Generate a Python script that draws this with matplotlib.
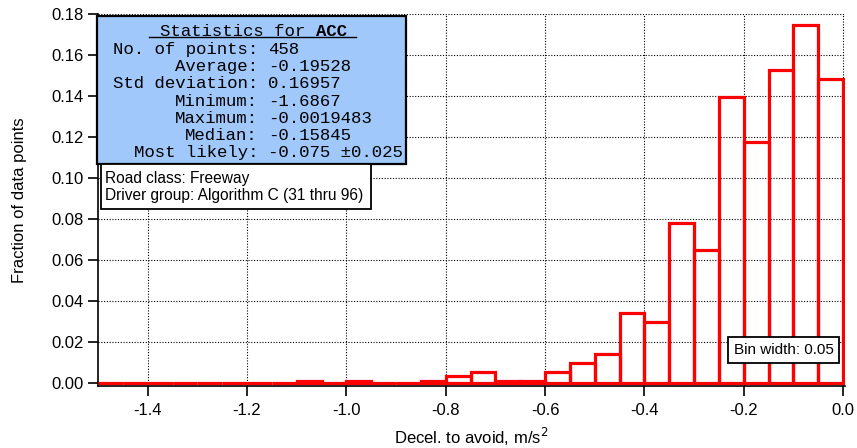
import matplotlib.pyplot as plt
from matplotlib.patches import Rectangle
from matplotlib.lines import Line2D

# histogram, bin width 0.05 from -1.5 to 0.0
bin_left = [-1.50, -1.45, -1.40, -1.35, -1.30, -1.25, -1.20, -1.15, -1.10, -1.05,
            -1.00, -0.95, -0.90, -0.85, -0.80, -0.75, -0.70, -0.65, -0.60, -0.55,
            -0.50, -0.45, -0.40, -0.35, -0.30, -0.25, -0.20, -0.15, -0.10, -0.05]
fraction = [0, 0, 0, 0, 0, 0, 0, 0, 0.0009, 0,
            0.0009, 0, 0, 0.0008, 0.0033, 0.0055, 0.0009, 0.0009, 0.0055, 0.0098,
            0.0142, 0.0343, 0.0298, 0.0780, 0.0650, 0.1395, 0.1175, 0.1525, 0.1745, 0.1483]
bin_width = 0.05

stat_labels = ["No. of points:", "Average:", "Std deviation:", "Minimum:",
               "Maximum:", "Median:", "Most likely:"]
stat_values = ["458", "-0.19528", "0.16957", "-1.6867", "-0.0019483",
               "-0.15845", "-0.075 \u00b10.025"]
info_lines = ["Road class: Freeway", "Driver group: Algorithm C (31 thru 96)"]

plt.rcParams['font.family'] = 'Liberation Sans'

W, H = 857, 448
fig = plt.figure(figsize=(W / 100, H / 100), dpi=100)


def px(x, y):
    return x / W, 1 - y / H


ax = fig.add_axes([98 / W, (H - 386) / H, (845 - 98) / W, (386 - 14) / H])
ax.bar(bin_left, fraction, width=bin_width, align="edge", fill=False,
       edgecolor="#ff0000", linewidth=2.3, zorder=3)
ax.set_xlim(-1.5, 0.004)
ax.set_ylim(-0.0015, 0.18)
ax.set_xticks([-1.4, -1.2, -1.0, -0.8, -0.6, -0.4, -0.2, 0.0])
ax.set_xticklabels(["-1.4", "-1.2", "-1.0", "-0.8", "-0.6", "-0.4", "-0.2", "0.0"])
ax.set_yticks([0, 0.02, 0.04, 0.06, 0.08, 0.10, 0.12, 0.14, 0.16, 0.18])
ax.yaxis.set_major_formatter(plt.FormatStrFormatter("%.2f"))
ax.grid(True, color="black", linestyle=(0, (1, 1.5)), linewidth=0.8)
ax.set_axisbelow(True)
for s in ["top", "right"]:
    ax.spines[s].set_visible(False)
for s in ["left", "bottom"]:
    ax.spines[s].set_linewidth(1.2)
ax.tick_params(direction="out", length=7, width=1.2, labelsize=12, pad=3)
ax.tick_params(axis="x", pad=5)
ax.set_ylabel("Fraction of data points", fontsize=12, labelpad=18)
ax.set_xlabel("Decel. to avoid, m/s$^2$", fontsize=12, labelpad=6)

# statistics box
x0, y0 = px(97, 164)
x1, y1 = px(406, 16)
fig.add_artist(Rectangle((x0, y0), x1 - x0, y1 - y0, transform=fig.transFigure,
                         facecolor="#a0c8fa", edgecolor="black", linewidth=1.6, zorder=5))
mono = "Liberation Mono"
fig.text(*px(160, 31.5), "Statistics for ", family=mono, fontsize=12.5,
         va="center", ha="left", zorder=6)
fig.text(*px(316, 31.5), "ACC", family=mono, fontsize=12.5, weight="bold",
         va="center", ha="left", zorder=6)
ua, ub = px(149, 37), px(356, 37)
fig.add_artist(Line2D([ua[0], ub[0]], [ua[1], ub[1]], transform=fig.transFigure,
                      color="black", linewidth=1, zorder=6))
for i, (lab, val) in enumerate(zip(stat_labels, stat_values)):
    yy = 49.3 + i * 17.25
    fig.text(*px(258, yy), lab, family=mono, fontsize=12.5, va="center", ha="right", zorder=6)
    fig.text(*px(268, yy), val, family=mono, fontsize=12.5, va="center", ha="left", zorder=6)

# road class box
x0, y0 = px(101, 209)
x1, y1 = px(371, 164)
fig.add_artist(Rectangle((x0, y0), x1 - x0, y1 - y0, transform=fig.transFigure,
                         facecolor="white", edgecolor="black", linewidth=1.3, zorder=5))
for i, line in enumerate(info_lines):
    fig.text(*px(105, 178 + i * 17.5), line, fontsize=11.2,
             va="center", ha="left", zorder=6)

# bin width box
x0, y0 = px(728, 363)
x1, y1 = px(839, 337)
fig.add_artist(Rectangle((x0, y0), x1 - x0, y1 - y0, transform=fig.transFigure,
                         facecolor="white", edgecolor="black", linewidth=1.3, zorder=5))
fig.text(*px(783.5, 350.5), "Bin width: %.2f" % bin_width,
         fontsize=11, va="center", ha="center", zorder=6)

fig.savefig("out.png", dpi=100)
